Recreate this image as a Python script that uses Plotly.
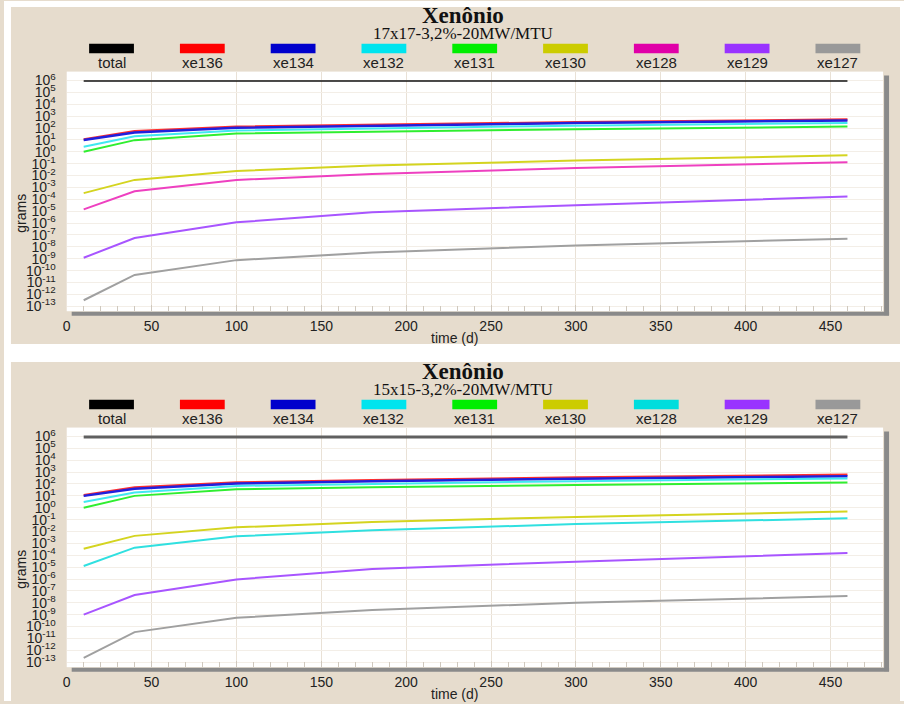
import plotly.graph_objects as go

W, H = 904, 704

# ---------------- data ----------------
days = [10, 40, 100, 180, 300, 460]
series_names = ["total", "xe136", "xe134", "xe132", "xe131", "xe130", "xe128", "xe129", "xe127"]

# Panel 1: 17x17-3,2%-20MW/MTU (grams)
a_total = [8.9e5, 8.9e5, 8.9e5, 8.9e5, 8.9e5, 8.9e5]
a_xe136 = [11.0, 53.7, 126, 191, 309, 513]
a_xe134 = [10.0, 41.7, 105, 158, 263, 427]
a_xe132 = [2.63, 20.4, 63.1, 95.5, 158, 269]
a_xe131 = [1.00, 9.55, 34.7, 50.1, 79.4, 132]
a_xe130 = [3.3e-4, 4.3e-3, 2.45e-2, 6.9e-2, 0.182, 0.50]
a_xe128 = [1.41e-5, 4.8e-4, 4.3e-3, 1.35e-2, 4.4e-2, 0.129]
a_xe129 = [1.2e-9, 5.6e-8, 1.15e-6, 8.1e-6, 3.2e-5, 1.74e-4]
a_xe127 = [3.2e-13, 4.3e-11, 7.6e-10, 3.3e-9, 1.29e-8, 4.9e-8]

# Panel 2: 15x15-3,2%-20MW/MTU (grams)
b_total = [9.0e5, 9.0e5, 9.0e5, 9.0e5, 9.0e5, 9.0e5]
b_xe136 = [11.2, 50.1, 132, 209, 347, 589]
b_xe134 = [10.0, 38.9, 110, 170, 282, 447]
b_xe132 = [3.09, 19.1, 69.2, 105, 174, 288]
b_xe131 = [1.02, 10.0, 36.3, 53.7, 83.2, 132]
b_xe130 = [3.6e-4, 4.3e-3, 2.24e-2, 6.3e-2, 0.170, 0.479]
b_xe128 = [1.26e-5, 4.4e-4, 4.0e-3, 1.26e-2, 4.2e-2, 0.129]
b_xe129 = [1.0e-9, 4.5e-8, 9.3e-7, 7.1e-6, 2.9e-5, 1.55e-4]
b_xe127 = [2.3e-13, 3.4e-11, 5.5e-10, 2.5e-9, 1.0e-8, 3.7e-8]

panel_titles = ["Xenônio", "Xenônio"]
panel_subtitles = ["17x17-3,2%-20MW/MTU", "15x15-3,2%-20MW/MTU"]
y_exponents = [-13, -12, -11, -10, -9, -8, -7, -6, -5, -4, -3, -2, -1, 0, 1, 2, 3, 4, 5, 6]
x_title = "time (d)"
y_title = "grams"

panel_a = [a_total, a_xe136, a_xe134, a_xe132, a_xe131, a_xe130, a_xe128, a_xe129, a_xe127]
panel_b = [b_total, b_xe136, b_xe134, b_xe132, b_xe131, b_xe130, b_xe128, b_xe129, b_xe127]

# ---------------- styles ----------------
colors_a = ["#000000", "#FF0000", "#0000CC", "#00E4EE", "#00EE00", "#CCCC00", "#E000A8", "#9933FF", "#999999"]
colors_b = ["#000000", "#FF0000", "#0000CC", "#00E4EE", "#00EE00", "#CCCC00", "#00DDDD", "#9933FF", "#999999"]
line_colors_a = ["#111111", "#FF3030", "#2020DD", "#40E8F0", "#30EE30", "#D4D420", "#EE40C0", "#A855FF", "#A0A0A0"]
line_colors_b = ["#606060", "#FF3030", "#2020DD", "#40E8F0", "#30EE30", "#D4D420", "#30E0E0", "#A855FF", "#A0A0A0"]
widths_a = [1.5, 2.5, 2.5, 2, 2, 2, 2, 2, 2]
widths_b = [3, 2.5, 2.5, 2, 2, 2, 2, 2, 2]

BEIGE = "#E6DCCD"
SANS = "Liberation Sans, Arial, sans-serif"
SERIF = "Liberation Serif, Times New Roman, serif"

def px(x):
    return x / W

def py(y):
    return 1 - y / H

fig = go.Figure()

panels = [
    dict(data=panel_a, colors=colors_a, lcolors=line_colors_a, widths=widths_a,
         xa="x", ya="y", top=71, bot=312, off=0),
    dict(data=panel_b, colors=colors_b, lcolors=line_colors_b, widths=widths_b,
         xa="x2", ya="y2", top=429, bot=670, off=358),
]

for p in panels:
    for name, vals, lc, w in zip(series_names, p["data"], p["lcolors"], p["widths"]):
        fig.add_trace(go.Scatter(x=days, y=vals, mode="lines", name=name,
                                 line=dict(color=lc, width=w),
                                 xaxis=p["xa"], yaxis=p["ya"], showlegend=False))

tickvals = [10.0 ** e for e in y_exponents]
ticktext = [f"10<sup>{e}</sup>" for e in y_exponents]

xcommon = dict(range=[0, 481], dtick=50, tick0=0, showgrid=True, gridcolor="#E9E1D6", gridwidth=1,
               zeroline=False, showline=False, ticks="inside", ticklen=6, tickcolor="#CFC8BE",
               minor=dict(dtick=10, ticks="inside", ticklen=5, tickcolor="#CFC8BE", showgrid=False),
               tickfont=dict(family=SANS, size=14, color="#222222"), ticklabelstandoff=5,
               domain=[px(63), px(883)], fixedrange=True)
ycommon = dict(type="log", range=[-13.42, 6.75], tickvals=tickvals, ticktext=ticktext,
               showgrid=True, gridcolor="#F3EEE7", gridwidth=1, zeroline=False, showline=False,
               ticks="", tickfont=dict(family=SANS, size=14, color="#222222"),
               ticklabelstandoff=10, fixedrange=True)

fig.update_layout(
    width=W, height=H, margin=dict(l=0, r=0, t=0, b=0),
    paper_bgcolor=BEIGE, plot_bgcolor="#FFFFFF", showlegend=False,
    xaxis=dict(**xcommon, anchor="y"),
    yaxis=dict(**ycommon, anchor="x", domain=[py(312), py(71)]),
    xaxis2=dict(**xcommon, anchor="y2"),
    yaxis2=dict(**ycommon, anchor="x2", domain=[py(670), py(429)]),
)

shapes = []
# white page borders / gap between panels
for (x0, y0, x1, y1) in [(0, 0, 904, 6), (0, 0, 7, 704), (900, 0, 904, 704), (0, 345, 904, 363)]:
    shapes.append(dict(type="rect", xref="paper", yref="paper", x0=px(x0), x1=px(x1), y0=py(y1), y1=py(y0),
                       fillcolor="#FFFFFF", line=dict(width=0), layer="below"))

annotations = []
leg_x0, leg_dx = 108, 91.2
for i, p in enumerate(panels):
    off = p["off"]
    # drop shadow of plot area
    shapes.append(dict(type="rect", xref="paper", yref="paper", x0=px(884), x1=px(889),
                       y0=py(p["bot"] + 4), y1=py(p["top"] + 4), fillcolor="#8A8A8A", line=dict(width=0)))
    shapes.append(dict(type="rect", xref="paper", yref="paper", x0=px(68), x1=px(889),
                       y0=py(p["bot"] + 4.5), y1=py(p["bot"] + 0.5), fillcolor="#8A8A8A", line=dict(width=0)))
    # title + subtitle
    annotations.append(dict(text=f"<b>{panel_titles[i]}</b>", x=px(461), y=py(15 + off), xref="paper", yref="paper",
                            showarrow=False, xanchor="center", yanchor="middle",
                            font=dict(family=SERIF, size=23, color="#111111")))
    annotations.append(dict(text=panel_subtitles[i], x=px(461), y=py(33 + off), xref="paper", yref="paper",
                            showarrow=False, xanchor="center", yanchor="middle",
                            font=dict(family=SERIF, size=17, color="#111111")))
    # legend
    for k, (name, c) in enumerate(zip(series_names, p["colors"])):
        cx = leg_x0 + k * leg_dx
        shapes.append(dict(type="rect", xref="paper", yref="paper", x0=px(cx - 22.5), x1=px(cx + 22.5),
                           y0=py(52.5 + off), y1=py(43 + off), fillcolor=c, line=dict(width=0)))
        annotations.append(dict(text=name, x=px(cx), y=py(61.5 + off), xref="paper", yref="paper",
                                showarrow=False, xanchor="center", yanchor="middle",
                                font=dict(family=SANS, size=15, color="#222222")))
    # axis titles
    annotations.append(dict(text=y_title, x=px(17), y=py(213 + off), xref="paper", yref="paper",
                            showarrow=False, textangle=-90, xanchor="center", yanchor="middle",
                            font=dict(family=SANS, size=14, color="#222222")))
    annotations.append(dict(text=x_title, x=px(452), y=py(339 + off), xref="paper", yref="paper",
                            showarrow=False, xanchor="center", yanchor="middle",
                            font=dict(family=SANS, size=14, color="#222222")))

fig.update_layout(shapes=shapes, annotations=annotations)
fig.write_html("out.html", config={"displayModeBar": False},
               post_script="document.body.style.margin='0';document.body.style.overflow='hidden';")
